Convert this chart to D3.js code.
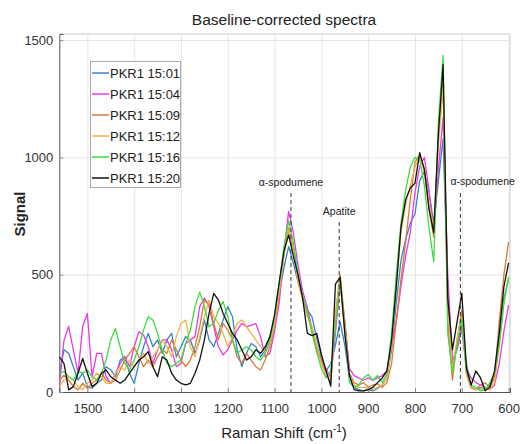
<!DOCTYPE html>
<html>
<head>
<meta charset="utf-8">
<script src="https://cdn.jsdelivr.net/npm/d3@7"></script>
<style>
body { margin: 0; background: #fff; }
svg { font-family: "Liberation Sans", Arial, sans-serif; }
</style>
</head>
<body>
<svg></svg>
<script>
// raman shift sampling grid (cm-1), 10 cm-1 steps from 1560 down to 600
var shift = d3.range(1560, 595, -10);

var names = ["PKR1 15:01", "PKR1 15:04", "PKR1 15:09", "PKR1 15:12", "PKR1 15:16", "PKR1 15:20"];
var colors = ["#3585c6", "#e83ae8", "#d97a3a", "#f0b24c", "#3ddd3d", "#111111"];

var s1501 = [80,180,165,108,51,80,23,16,37,51, 108,94,65,136,150,80,37,122,193,250,
  193,222,165,222,250,150,193,236,222,165, 222,307,222,193,250,307,364,321,180,108,
  165,207,193,150,180,236,
  300,420,530,620,550,470,400,350,320,230, 150,90,120,200,300,200,60,20,10,5,
  10,5,15,30,60,180,380,560,650,720, 760,900,940,850,720,900,1080,450,120,200,
  290,120,20,10,20,10,30,80,220,400,480];
var s1504 = [23,220,280,180,80,280,335,65,165,165, 65,37,80,122,150,108,193,257,243,193,
  122,180,222,222,180,108,122,207,222,236, 364,400,364,278,193,158,180,222,264,292,
  278,285,292,236,150,165,
  260,380,600,770,680,540,430,360,270,180, 130,100,60,250,460,300,100,70,60,50,
  60,50,60,70,90,200,300,450,580,680, 850,960,1000,860,680,950,1170,500,130,180,
  270,100,60,40,30,20,10,30,120,260,370];
var s1509 = [51,72,51,23,9,37,16,37,51,80, 51,37,51,94,136,165,193,150,108,136,
  108,150,180,165,222,180,136,108,136,193, 278,392,378,292,222,292,264,222,150,122,
  165,136,108,94,136,193,
  280,420,590,700,610,480,400,330,270,190, 140,80,40,330,500,300,80,40,30,40,
  20,30,35,20,40,120,300,480,640,820, 980,1010,940,780,660,1100,1330,300,50,220,
  350,80,20,10,30,40,20,60,300,500,640];
var s1512 = [23,51,65,51,23,9,37,51,80,65, 37,37,80,108,94,136,108,136,165,122,
  150,180,222,193,150,236,292,307,193,150, 236,321,392,321,292,250,193,236,292,307,
  278,250,222,193,165,207,
  290,430,580,690,600,470,390,320,280,200, 120,70,50,320,490,270,60,30,20,20,
  15,10,20,30,60,200,450,680,800,880, 960,1000,950,800,700,1050,1300,380,90,230,
  320,70,15,10,10,20,10,40,200,380,490];
var s1516 = [80,87,65,51,87,80,94,65,51,80, 136,222,271,193,122,94,136,193,264,321,
  307,250,180,122,108,122,136,207,264,364, 427,364,278,292,349,385,321,222,165,180,
  193,180,150,136,165,222,
  320,460,620,730,640,500,410,340,250,170, 100,60,90,280,480,260,40,20,30,60,
  75,50,70,40,80,250,500,720,860,960, 1000,990,880,700,555,1150,1435,250,80,200,
  310,90,30,20,5,10,40,80,200,380,490];
var s1520 = [150,122,9,23,80,143,80,23,37,80, 94,65,51,37,51,80,108,136,150,172,
  108,65,150,136,80,51,37,30,37,80, 136,222,335,420,392,335,292,250,222,180,
  136,150,180,165,193,236,
  330,470,600,670,580,500,400,250,240,250, 160,90,25,460,490,250,70,10,5,5,
  10,20,40,60,90,220,450,700,820,870, 890,1020,950,780,680,1100,1395,400,180,300,
  420,100,30,90,60,5,20,90,250,450,550];
var series = [s1501, s1504, s1509, s1512, s1516, s1520];

var xTicks = [1500, 1400, 1300, 1200, 1100, 1000, 900, 800, 700, 600];
var yTicks = [0, 500, 1000, 1500];

var bandShift = [1065, 962, 703];
var bandName = ["\u03b1-spodumene", "Apatite", "\u03b1-spodumene"];

var W = 525, H = 444;
var pL = 59.3, pR = 510, pT = 34, pB = 392;

var svg = d3.select("svg").attr("width", W).attr("height", H);

var x = d3.scaleLinear().domain([1560, 597]).range([pL, pR]);
var y = d3.scaleLinear().domain([0, 1526]).range([pB, pT]);

// grid
svg.append("g")
  .attr("transform", "translate(0," + pB + ")")
  .call(d3.axisBottom(x).tickValues(xTicks).tickSize(-(pB - pT)).tickFormat(""))
  .call(function(g) { g.select(".domain").remove(); })
  .selectAll("line").attr("stroke", "#e6e6e6");
svg.append("g")
  .attr("transform", "translate(" + pL + ",0)")
  .call(d3.axisLeft(y).tickValues(yTicks).tickSize(-(pR - pL)).tickFormat(""))
  .call(function(g) { g.select(".domain").remove(); })
  .selectAll("line").attr("stroke", "#e6e6e6");

// top/right box edges
svg.append("line").attr("x1", pL).attr("x2", pR).attr("y1", pT).attr("y2", pT)
  .attr("stroke", "#cccccc");
svg.append("line").attr("x1", pR).attr("x2", pR).attr("y1", pT).attr("y2", pB)
  .attr("stroke", "#cccccc");

// axes
var xAxis = svg.append("g")
  .attr("transform", "translate(0," + pB + ")")
  .call(d3.axisBottom(x).tickValues(xTicks).tickSize(-4).tickPadding(12).tickFormat(d3.format("d")));
var yAxis = svg.append("g")
  .attr("transform", "translate(" + pL + ",0)")
  .call(d3.axisLeft(y).tickValues(yTicks).tickSize(-4).tickPadding(6).tickFormat(d3.format("d")));
[xAxis, yAxis].forEach(function(a) {
  a.select(".domain").attr("stroke", "#555");
  a.selectAll(".tick line").attr("stroke", "#888");
  a.selectAll("text").attr("font-size", 13).attr("fill", "#333")
    .attr("font-family", "Liberation Sans, Arial, sans-serif");
});

// spectra
svg.append("clipPath").attr("id", "plot")
  .append("rect").attr("x", pL).attr("y", pT).attr("width", pR - pL).attr("height", pB - pT);

var line = d3.line()
  .x(function(d, i) { return x(shift[i]); })
  .y(function(d) { return y(d); });

svg.append("g").attr("clip-path", "url(#plot)")
  .selectAll("path")
  .data(series)
  .enter()
  .append("path")
  .attr("d", line)
  .attr("fill", "none")
  .attr("stroke", function(d, i) { return colors[i]; })
  .attr("stroke-width", 1.3)
  .attr("stroke-linejoin", "round");

// band markers
var bandLayout = [
  { anchor: "middle", dx: 0, labelY: 186, lineY: 193 },
  { anchor: "middle", dx: 0, labelY: 215, lineY: 222 },
  { anchor: "start", dx: -10, labelY: 185, lineY: 193 }
];
bandShift.forEach(function(b, i) {
  var L = bandLayout[i];
  svg.append("line")
    .attr("x1", x(b)).attr("x2", x(b))
    .attr("y1", L.lineY).attr("y2", pB)
    .attr("stroke", "#333").attr("stroke-width", 1)
    .attr("stroke-dasharray", "4,3");
  svg.append("text")
    .attr("x", x(b) + L.dx).attr("y", L.labelY)
    .attr("text-anchor", L.anchor)
    .attr("font-size", 10.5).attr("fill", "#222")
    .text(bandName[i]);
});

// legend
var lg = svg.append("g");
lg.append("rect").attr("x", 90.5).attr("y", 61.5).attr("width", 90).attr("height", 126)
  .attr("fill", "#fff").attr("stroke", "#aaa");
names.forEach(function(n, i) {
  var yy = 73 + i * 21;
  lg.append("line").attr("x1", 92).attr("x2", 109).attr("y1", yy).attr("y2", yy)
    .attr("stroke", colors[i]).attr("stroke-width", 1.5);
  lg.append("text").attr("x", 110).attr("y", yy).attr("dy", "0.36em")
    .attr("font-size", 13).attr("fill", "#222").text(n);
});

// titles
svg.append("text").attr("x", 284).attr("y", 25).attr("text-anchor", "middle")
  .attr("font-size", 15.5).attr("fill", "#222").text("Baseline-corrected spectra");

var xl = svg.append("text").attr("x", 284).attr("y", 438).attr("text-anchor", "middle")
  .attr("font-size", 15).attr("fill", "#222");
xl.append("tspan").text("Raman Shift (cm");
xl.append("tspan").attr("font-size", 10).attr("dy", -6).text("-1");
xl.append("tspan").attr("dy", 6).text(")");

svg.append("text")
  .attr("transform", "translate(25,214) rotate(-90)")
  .attr("text-anchor", "middle")
  .attr("font-size", 15).attr("font-weight", "bold").attr("fill", "#222")
  .text("Signal");
</script>
</body>
</html>
